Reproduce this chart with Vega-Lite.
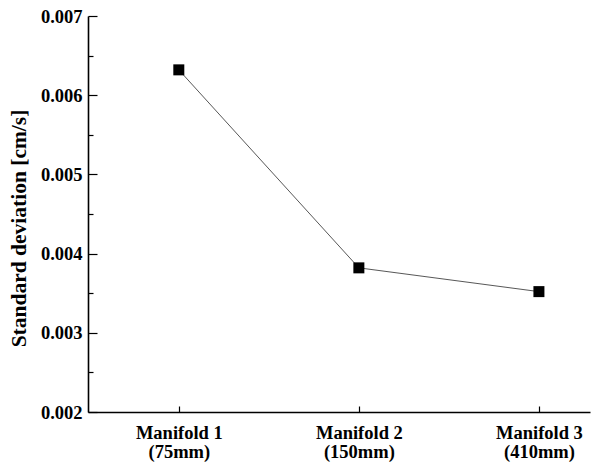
{
  "$schema": "https://vega.github.io/schema/vega-lite/v6.json",
  "width": 502,
  "height": 396,
  "autosize": {"type": "none"},
  "padding": {"left": 88, "top": 16, "right": 6, "bottom": 50},
  "background": "white",
  "config": {
    "view": {"stroke": null},
    "font": "Liberation Serif"
  },
  "data": {
    "values": [
      {"manifold": "Manifold 1 (75mm)", "sd": 0.00632},
      {"manifold": "Manifold 2 (150mm)", "sd": 0.00382},
      {"manifold": "Manifold 3 (410mm)", "sd": 0.00352}
    ]
  },
  "encoding": {
    "x": {
      "field": "manifold",
      "type": "ordinal",
      "sort": null,
      "scale": {"type": "point", "padding": 0.394, "align": 0.64},
      "axis": {
        "title": null,
        "labelAngle": 0,
        "labelExpr": "[slice(datum.label,0,10), slice(datum.label,11)]",
        "labelFont": "Liberation Serif",
        "labelFontWeight": "bold",
        "labelFontSize": 18.5,
        "labelColor": "black",
        "labelLineHeight": 19,
        "labelPadding": 17,
        "tickSize": -6,
        "tickColor": "black",
        "tickWidth": 1.2,
        "domainColor": "black",
        "domainWidth": 1.6,
        "grid": false
      }
    },
    "y": {
      "field": "sd",
      "type": "quantitative",
      "scale": {"domain": [0.002, 0.007], "nice": false, "zero": false},
      "axis": {
        "title": "Standard deviation [cm/s]",
        "titleFont": "Liberation Serif",
        "titleFontWeight": "bold",
        "titleFontSize": 21.5,
        "titleColor": "black",
        "titlePadding": 10,
        "titleY": 212,
        "values": [0.002, 0.0025, 0.003, 0.0035, 0.004, 0.0045, 0.005, 0.0055, 0.006, 0.0065, 0.007],
        "labelExpr": "round(datum.value*10000) % 10 == 0 ? format(datum.value, '.3f') : ''",
        "labelFont": "Liberation Serif",
        "labelFontWeight": "bold",
        "labelFontSize": 18.5,
        "labelColor": "black",
        "labelPadding": 15,
        "tickSize": {"condition": {"test": "round(datum.value*10000) % 10 == 0", "value": -9}, "value": -5},
        "tickColor": "black",
        "tickWidth": 1.2,
        "domainColor": "black",
        "domainWidth": 1.6,
        "grid": false
      }
    }
  },
  "layer": [
    {"mark": {"type": "line", "color": "#444444", "strokeWidth": 0.9}},
    {"mark": {"type": "point", "shape": "square", "filled": true, "color": "black", "size": 121, "opacity": 1}}
  ]
}
